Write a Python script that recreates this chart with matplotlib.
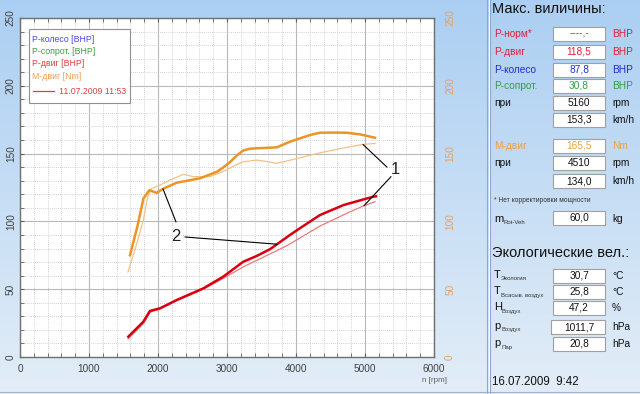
import numpy as np
import matplotlib.pyplot as plt
from matplotlib.patches import Rectangle
from matplotlib.lines import Line2D
from matplotlib.ticker import MultipleLocator

plt.rcParams['font.family'] = ['Liberation Sans', 'DejaVu Sans']

# M-двиг, заезд 2 (толстая)
m2_rpm = [1594, 1700, 1790, 1874, 1930, 1980, 2072, 2270, 2609, 2850, 2947, 3050,
          3150, 3237, 3330, 3430, 3720, 3913, 4203, 4348, 4510, 4734, 4928, 5145]
m2_val = [75, 96, 117, 123, 122, 121, 124, 128.5, 131.8, 136.5, 139.8, 144,
          149, 152.3, 153.6, 153.9, 154.6, 158.8, 163.7, 165.4, 165.5, 165.4, 164.2, 161.7]
# M-двиг, заезд 1 (тонкая)
m1_rpm = [1565, 1700, 1787, 1850, 1908, 2029, 2174, 2367, 2512, 2754, 2995, 3120,
          3237, 3430, 3600, 3720, 3961, 4348, 4734, 4976, 5145]
m1_val = [62.7, 85, 101, 118, 124.4, 126.8, 130.5, 134.7, 133, 133, 138, 141.5,
          144, 145.2, 144, 142.8, 145.7, 150.6, 154.6, 156.8, 157.5]
# P-двиг, заезд 2 (толстая)
p2_rpm = [1570, 1787, 1884, 2029, 2270, 2657, 2947, 3237, 3430, 3623, 3720, 3913,
          4058, 4348, 4686, 4976, 5120, 5160]
p2_val = [15, 26, 34, 35.9, 42, 50.6, 59.3, 70.3, 74.5, 79.5, 83, 90,
          95, 104.7, 112, 116.2, 118.2, 118.5]
# P-двиг, заезд 1 (тонкая)
p1_rpm = [1565, 1787, 1884, 2029, 2270, 2657, 2947, 3237, 3623, 3865, 4348, 4734,
          4976, 5145]
p1_val = [13.3, 24.5, 33, 35.5, 41.5, 50, 58, 66.5, 76, 82, 96.6, 105.9,
          111.4, 114.5]

legend_items = ['P-колесо [BHP]', 'P-сопрот. [BHP]', 'P-двиг [BHP]', 'M-двиг [Nm]']
legend_colors = ['#4a4ae0', '#3f9f3f', '#e04040', '#f0a050']
run_label = '11.07.2009 11:53'

# правая панель
max_labels = ['P-норм*', 'P-двиг', 'P-колесо', 'P-сопрот.', 'при', '', 'M-двиг', 'при', '']
max_values = ['----,-', '118,5', '87,8', '30,8', '5160', '153,3', '165,5', '4510', '134,0']
max_units = ['BHP', 'BHP', 'BHP', 'BHP', 'rpm', 'km/h', 'Nm', 'rpm', 'km/h']
max_colors = ['#e0203c', '#e0203c', '#2030d0', '#30a040', '#111111', '#111111',
              '#f0a040', '#111111', '#111111']
max_rows_y = [34, 52, 70, 86, 103, 120, 146, 163, 181]

eco_main = ['T', 'T', 'H', 'p', 'p']
eco_sub = ['Экология', 'Всасыв. воздух', 'Воздух', 'Воздух', 'Пар']
eco_values = ['30,7', '25,8', '47,2', '1011,7', '20,8']
eco_units = ['°C', '°C', '%', 'hPa', 'hPa']
eco_rows_y = [276, 292, 308, 327, 344]

W, H = 640, 394
fig = plt.figure(figsize=(6.4, 3.94), dpi=100)


def px(x, y):
    return x / W, 1 - y / H


# фон с градиентом
bg = fig.add_axes([0, 0, 1, 1], zorder=0)
grad = np.linspace(0, 1, 256)[:, None]
top = np.array([0.67, 0.81, 0.95])
bot = np.array([0.89, 0.93, 0.97])
img = top[None, None, :] * (1 - grad[:, :, None]) + bot[None, None, :] * grad[:, :, None]
bg.imshow(img, aspect='auto', extent=[0, 1, 0, 1])
bg.set_axis_off()
for x, c in [(487, '#8fa8c8'), (488.5, '#ffffff'), (490, '#8fa8c8')]:
    fig.add_artist(Line2D([x / W, x / W], [0, 1], color=c, lw=0.8))
fig.add_artist(Line2D([0, 1], [1 - 392 / H] * 2, color='#9fb4cc', lw=0.8))

# график
ax = fig.add_axes([20 / W, 1 - 357 / H, 414 / W, 339 / H], zorder=2)
ax.set_facecolor('white')
ax.set_xlim(0, 6000)
ax.set_ylim(0, 250)
ax.xaxis.set_major_locator(MultipleLocator(1000))
ax.xaxis.set_minor_locator(MultipleLocator(200))
ax.yaxis.set_major_locator(MultipleLocator(50))
ax.yaxis.set_minor_locator(MultipleLocator(10))
ax.grid(which='major', color='#b8b8b8', lw=0.8, ls='-')
ax.grid(which='minor', color='#c4c4c4', lw=0.6, ls=(0, (1, 1.5)))
ax.set_axisbelow(True)
ax.tick_params(which='both', direction='in', top=True, right=True, length=3,
               color='#606060', labelsize=7.2, labelcolor='#404040')
ax.tick_params(axis='x', pad=5)
ax.tick_params(axis='y', pad=3)
for lab in ax.get_yticklabels():
    lab.set_rotation(90)
    lab.set_va('center')
for s in ax.spines.values():
    s.set_color('#707070')
    s.set_linewidth(1.0)

ax2 = ax.twinx()
ax2.set_ylim(0, 250)
ax2.yaxis.set_major_locator(MultipleLocator(50))
ax2.tick_params(axis='y', length=0, pad=8, labelsize=7.2, labelcolor='#e8a060')
for lab in ax2.get_yticklabels():
    lab.set_rotation(90)
    lab.set_va('center')
ax2.spines[:].set_visible(False)

ax.plot(m1_rpm, m1_val, color='#f6c088', lw=0.9)
ax.plot(m2_rpm, m2_val, color='#ec9424', lw=1.8)
ax.plot(p1_rpm, p1_val, color='#ec7a80', lw=0.9)
ax.plot(p2_rpm, p2_val, color='#d80010', lw=1.8)

# выноски
ax.text(5435, 138, '1', fontsize=12, color='#222222', ha='center', va='center')
ax.annotate('', xy=(4971, np.interp(4971, m1_rpm, m1_val)), xytext=(5319, 140),
            arrowprops=dict(arrowstyle='-', color='black', lw=0.8, shrinkA=0, shrinkB=0))
ax.annotate('', xy=(4986, np.interp(4986, p1_rpm, p1_val)), xytext=(5377, 133),
            arrowprops=dict(arrowstyle='-', color='black', lw=0.8, shrinkA=0, shrinkB=0))
ax.text(2261, 88.5, '2', fontsize=12, color='#222222', ha='center', va='center')
ax.annotate('', xy=(2072, np.interp(2072, m2_rpm, m2_val)), xytext=(2261, 99.6),
            arrowprops=dict(arrowstyle='-', color='black', lw=0.8, shrinkA=0, shrinkB=0))
ax.annotate('', xy=(3725, np.interp(3725, p2_rpm, p2_val)), xytext=(2391, 88.5),
            arrowprops=dict(arrowstyle='-', color='black', lw=0.8, shrinkA=0, shrinkB=0))

fig.text(*px(447, 381), 'n [rpm]', fontsize=5.8, color='#606060', ha='right', va='center')

# легенда
fig.add_artist(Rectangle(px(29, 103), 101 / W, 74 / H, transform=fig.transFigure,
                         facecolor='white', edgecolor='#909090', lw=0.8, zorder=5))
for i, (t, c) in enumerate(zip(legend_items, legend_colors)):
    fig.text(*px(32, 39 + i * 12.4), t, fontsize=6.3, color=c, va='center', zorder=6)
fig.add_artist(Line2D([33 / W, 54 / W], [1 - 91 / H] * 2, color='#e04040', lw=0.9, zorder=6))
fig.text(*px(59, 91), run_label, fontsize=6.3, color='#e04040', va='center', zorder=6)


# правая панель
def box(x0, y, w=52, h=14):
    fig.add_artist(Rectangle(px(x0, y + h / 2), w / W, h / H, transform=fig.transFigure,
                             facecolor='white', edgecolor='#a0a0a0', lw=0.8))


fig.text(*px(492, 9), 'Макс. виличины:', fontsize=10.5, color='#111111', va='center')
for lab, val, unit, c, y in zip(max_labels, max_values, max_units, max_colors, max_rows_y):
    if lab:
        fig.text(*px(494, y), lab, fontsize=7.3, color=c, va='center')
    box(553, y)
    fig.text(*px(579, y), val, fontsize=7.3, color=c, ha='center', va='center')
    ucol = c if unit in ('BHP', 'Nm') else '#111111'
    fig.text(*px(612, y), unit, fontsize=7.3, color=ucol, va='center')

fig.text(*px(494, 200), '* Нет корректировки мощности', fontsize=4.8, color='#333333', va='center')
fig.text(*px(494, 219), 'm', fontsize=8, color='#111111', va='center')
fig.text(*px(503, 222), 'Rot-Veh', fontsize=4.3, color='#333333', va='center')
box(553, 218)
fig.text(*px(579, 218), '60,0', fontsize=7.3, color='#111111', ha='center', va='center')
fig.text(*px(612, 219), 'kg', fontsize=7.3, color='#111111', va='center')

fig.text(*px(492, 253), 'Экологические вел.:', fontsize=10.5, color='#111111', va='center')
for m, sub, val, unit, y in zip(eco_main, eco_sub, eco_values, eco_units, eco_rows_y):
    fig.text(*px(494, y - 1), m, fontsize=8, color='#111111', va='center')
    fig.text(*px(501, y + 3), sub, fontsize=4.3, color='#333333', va='center')
    bx = 551 if len(val) > 4 else 553
    box(bx, y, w=54 if len(val) > 4 else 52)
    fig.text(*px(579, y), val, fontsize=7.3, color='#111111', ha='center', va='center')
    fig.text(*px(612, y), unit, fontsize=7.3, color='#111111', va='center')

fig.text(*px(492, 382), '16.07.2009  9:42', fontsize=8.3, color='#111111', va='center')

fig.savefig('out.png', dpi=100)
